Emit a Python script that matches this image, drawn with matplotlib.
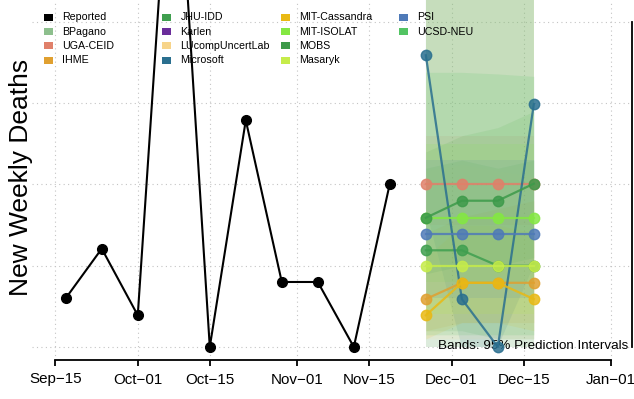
import matplotlib
matplotlib.use("Agg")
import matplotlib.pyplot as plt
import matplotlib.dates as mdates
from matplotlib.patches import Rectangle
import pandas as pd

plt.rcParams['font.family'] = ['Liberation Sans', 'DejaVu Sans']

# reported weekly deaths
obs_dates = ['2020-09-17', '2020-09-24', '2020-10-01', '2020-10-08', '2020-10-15',
             '2020-10-22', '2020-10-29', '2020-11-05', '2020-11-12', '2020-11-19']
obs_deaths = [60, 121, 39, 702, 0, 279, 80, 80, 0, 201]

# forecast targets
fc_dates = ['2020-11-26', '2020-12-03', '2020-12-10', '2020-12-17']

models = ['BPagano', 'UGA-CEID', 'IHME', 'JHU-IDD', 'Karlen', 'LUcompUncertLab',
          'Microsoft', 'MIT-Cassandra', 'MIT-ISOLAT', 'MOBS', 'Masaryk', 'PSI', 'UCSD-NEU']
model_colors = ['#8DBF8D', '#E0806A', '#E0A030', '#3F9F4F', '#6A2D9A', '#F7D48A',
                '#2A6F8F', '#E9B914', '#84E842', '#3D9A4A', '#C6EC4A', '#4F7AB8', '#52C463']

# point forecasts
fc_median = {
    'UGA-CEID': [200, 200, 200, 200],
    'IHME': [59, 79, 79, 79],
    'JHU-IDD': [119, 119, 100, 100],
    'Microsoft': [359, 59, 0, 299],
    'MIT-Cassandra': [39, 79, 79, 59],
    'MIT-ISOLAT': [159, 159, 159, 159],
    'MOBS': [159, 180, 180, 201],
    'Masaryk': [100, 100, 100, 100],
    'PSI': [139, 139, 139, 139],
}
# 95% prediction intervals
fc_lower = {
    'BPagano': [0, 0, 0, 0],
    'UGA-CEID': [150, 150, 150, 150],
    'IHME': [20, 30, 30, 30],
    'JHU-IDD': [20, 20, 10, 10],
    'LUcompUncertLab': [10, 10, 10, 10],
    'Microsoft': [170, 0, 0, 100],
    'MIT-Cassandra': [10, 30, 30, 20],
    'MIT-ISOLAT': [80, 80, 80, 80],
    'MOBS': [90, 100, 100, 110],
    'Masaryk': [40, 40, 40, 40],
    'PSI': [60, 60, 60, 60],
    'UCSD-NEU': [15, 15, 15, 15],
}
fc_upper = {
    'BPagano': [500, 500, 500, 500],
    'UGA-CEID': [260, 260, 260, 260],
    'IHME': [140, 160, 170, 180],
    'JHU-IDD': [220, 230, 220, 230],
    'LUcompUncertLab': [217, 225, 217, 210],
    'Microsoft': [900, 460, 460, 900],
    'MIT-Cassandra': [110, 150, 150, 140],
    'MIT-ISOLAT': [250, 250, 250, 250],
    'MOBS': [240, 260, 270, 290],
    'Masaryk': [480, 480, 480, 480],
    'PSI': [230, 230, 230, 230],
    'UCSD-NEU': [338, 338, 336, 333],
}
band_alpha = {'BPagano': 0.3, 'Masaryk': 0.16, 'Microsoft': 0.12, 'UCSD-NEU': 0.15}

tick_dates = ['2020-09-15', '2020-10-01', '2020-10-15', '2020-11-01',
              '2020-11-15', '2020-12-01', '2020-12-15', '2021-01-01']
tick_labels = ['Sep\u221215', 'Oct\u221201', 'Oct\u221215', 'Nov\u221201',
               'Nov\u221215', 'Dec\u221201', 'Dec\u221215', 'Jan\u221201']

W, H = 634, 399
fig = plt.figure(figsize=(W / 100, H / 100), dpi=100)
ax = fig.add_axes([32 / W, 1 - 360 / H, 600 / W, 360 / H])

x_obs = mdates.date2num(pd.to_datetime(obs_dates))
x_fc = mdates.date2num(pd.to_datetime(fc_dates))
x_ticks = mdates.date2num(pd.to_datetime(tick_dates))

# grid
for xt in x_ticks:
    ax.axvline(xt, color='#C4C4C4', lw=0.8, ls=(0, (1, 3)), zorder=0)
for yt in range(0, 401, 100):
    ax.axhline(yt, color='#C4C4C4', lw=0.8, ls=(0, (1, 3)), zorder=0)

# bands
for m, c in zip(models, model_colors):
    if m in fc_lower:
        ax.fill_between(x_fc, fc_lower[m], fc_upper[m], color=c,
                        alpha=band_alpha.get(m, 0.12), lw=0, zorder=1)

# point forecasts
for m, c in zip(models, model_colors):
    if m in fc_median:
        ax.plot(x_fc, fc_median[m], color=c, lw=1.6, marker='o', ms=7.5, alpha=0.85, zorder=3)

ax.plot(x_obs, obs_deaths, color='black', lw=1.5, marker='o', ms=7, zorder=4)

ax.set_xlim(x_ticks[0] - 4.56, x_ticks[-1] + 4.08)
ax.set_ylim(-16, 427)

for s in ['top', 'left']:
    ax.spines[s].set_visible(False)
ax.spines['bottom'].set_bounds(x_ticks[0], x_ticks[-1])
ax.spines['bottom'].set_linewidth(1.3)
ax.spines['right'].set_bounds(0, 400)
ax.spines['right'].set_linewidth(1.3)
ax.set_xticks(x_ticks)
ax.set_xticklabels(tick_labels, fontsize=10.9)
ax.tick_params(axis='x', direction='out', length=4, width=1.3, pad=5)
ax.set_yticks([])

fig.text(21.5 / W, 1 - 177.5 / H, 'New Weekly Deaths', rotation=90,
         ha='center', va='center', fontsize=19)

ax.text(628 / W, 1 - 346 / H, 'Bands: 95% Prediction Intervals', transform=fig.transFigure,
        ha='right', va='center', fontsize=9.6, zorder=2)

# legend, column-major like R's legend(ncol=4)
leg_names = ['Reported'] + models
leg_colors = ['black'] + model_colors
for i, (name, c) in enumerate(zip(leg_names, leg_colors)):
    col, row = i // 4, i % 4
    cx = 48 + col * 118.5
    cy = 17.5 + row * 14.2
    fig.patches.append(Rectangle(((cx - 4.5) / W, 1 - (cy + 3.5) / H), 9 / W, 7 / H,
                                 transform=fig.transFigure, color=c, lw=0))
    fig.text((cx + 14) / W, 1 - cy / H, name, ha='left', va='center', fontsize=7.7)

fig.savefig('out.png', dpi=100)
